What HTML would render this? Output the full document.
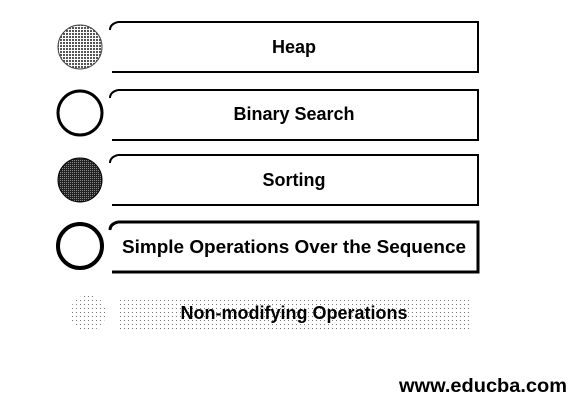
<!DOCTYPE html>
<html><head><style>
body{margin:0;width:574px;height:407px;background:#fff;overflow:hidden;font-family:"Liberation Sans",sans-serif;}
</style></head><body>
<svg width="574" height="407" xmlns="http://www.w3.org/2000/svg">
<defs>
<pattern id="hatch" width="3" height="3" patternUnits="userSpaceOnUse"><rect width="3" height="3" fill="#fff"/><rect width="2" height="2" fill="#555"/></pattern>
<pattern id="dark" width="2" height="2" patternUnits="userSpaceOnUse"><rect width="2" height="2" fill="#222"/><rect width="1" height="1" fill="#888"/></pattern>
<pattern id="dots" width="4" height="4" patternUnits="userSpaceOnUse"><rect width="1" height="1" fill="#777"/></pattern>
</defs>
<g fill="none" stroke="#000" stroke-width="2">
<path d="M118,22 H478 V72 H112 M118,22 Q110,24 110,30"/>
<path d="M118,90 H478 V140 H112 M118,90 Q110,92 110,98"/>
<path d="M118,155 H478 V205 H112 M118,155 Q110,157 110,163"/>
<path d="M118,222 H478 V272 H112 M118,222 Q110,224 110,230" stroke-width="3"/>
</g>
<rect x="118" y="298" width="352" height="32" fill="url(#dots)"/>
<circle cx="80" cy="47" r="22" fill="url(#hatch)" stroke="#444" stroke-width="1"/>
<circle cx="80" cy="113" r="22" fill="#fff" stroke="#000" stroke-width="3"/>
<circle cx="80" cy="180" r="22" fill="url(#dark)" stroke="#000" stroke-width="1"/>
<circle cx="80" cy="246" r="22" fill="#fff" stroke="#000" stroke-width="4"/>
<circle cx="88" cy="313" r="18" fill="url(#dots)"/>
<g font-weight="bold" font-size="18" text-anchor="middle" fill="#000">
<text x="294" y="53">Heap</text>
<text x="294" y="120">Binary Search</text>
<text x="294" y="186">Sorting</text>
<text x="294" y="253" textLength="344" lengthAdjust="spacingAndGlyphs">Simple Operations Over the Sequence</text>
<text x="294" y="319">Non-modifying Operations</text>
<text x="483" y="392" font-size="19" textLength="168" lengthAdjust="spacingAndGlyphs">www.educba.com</text>
</g>
</svg>
</body></html>
